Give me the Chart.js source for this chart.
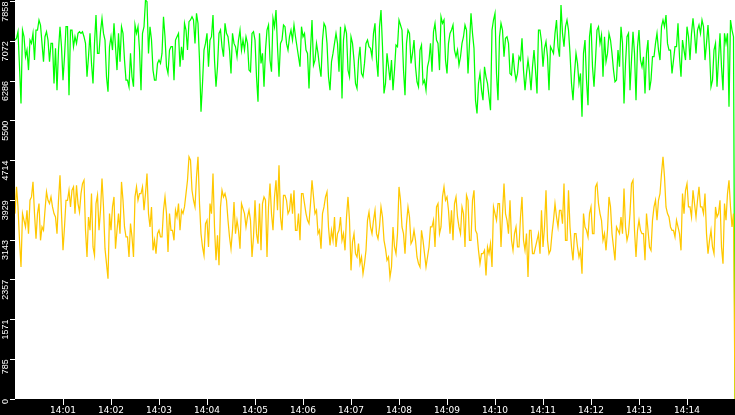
<!DOCTYPE html>
<html>
<head>
<meta charset="utf-8">
<script src="https://cdn.jsdelivr.net/npm/chart.js@4.4.1/dist/chart.umd.min.js"></script>
<style>
    html, body { margin: 0; padding: 0; background: #000; }
    #wrap { width: 735px; height: 415px; }
</style>
</head>
<body>
<div id="wrap"><canvas id="chart" width="735" height="415"></canvas></div>
<script>
// one sample every 1.875 s, 14:00:00 - 14:15:00
// each quarter is kept as two arrays (on-beat / half-beat samples) that get interleaved
const SAMPLE_SECONDS = 1.875;

const xTickLabels = ['14:01', '14:02', '14:03', '14:04', '14:05', '14:06', '14:07',
    '14:08', '14:09', '14:10', '14:11', '14:12', '14:13', '14:14'];
const yTickLabels = ['0', '785', '1571', '2357', '3143', '3929', '4714', '5500', '6286', '7072', '7858'];

// green series (upper)
const greenPart1 = [7098, 7263, 5844, 7164, 6900, 7098, 7230, 7296, 7494, 7032, 7164, 7098, 7032, 6240, 6108,
    7362, 6306, 7362, 6009, 7296, 7164, 7230, 7230, 7164, 6372, 7230, 6240, 7593, 6834, 7527, 7098, 6075, 7164,
    7428, 6504, 6669, 7230, 6306, 6174, 6372, 7395, 7362, 6108, 7362, 7857, 7362, 6504, 6306, 6702, 6834, 7164,
    6438, 6966, 6306, 7164, 6570, 6702, 7296, 7461, 7560];
const greenPart1Mid = [7131, 6570, 7296, 6768, 6504, 7032, 6702, 7296, 7395, 6669, 7263, 6669, 7032, 6933, 6900,
    6966, 6768, 7362, 7296, 6966, 7032, 7263, 7263, 7032, 6768, 6636, 7032, 6834, 7263, 7230, 6372, 6966, 6900,
    6966, 7230, 7362, 6702, 6306, 6834, 6174, 7230, 6900, 7230, 7890, 6834, 7098, 6306, 6636, 6636, 7560, 6570,
    6900, 6966, 7098, 7230, 6966, 7428, 6900, 7494, 7494];
const greenPart2 = [7032, 7428, 5679, 6900, 7230, 7098, 7593, 6174, 7230, 6966, 7428, 7164, 6438, 7032, 6768,
    7296, 7098, 7164, 6504, 7230, 7098, 5877, 6636, 6174, 7296, 6702, 7527, 7692, 6372, 7098, 7362, 6900, 7296,
    7395, 6966, 6570, 7164, 6900, 6141, 7494, 6702, 6834, 6372, 7428, 7032, 6108, 6834, 7230, 6471, 5943, 7362,
    6504, 7164, 6702, 6141, 6966, 6372, 7032, 6966, 6768];
const greenPart2Mid = [7626, 6702, 6240, 7032, 6570, 7164, 6702, 6570, 7296, 6768, 7230, 6900, 7230, 6966, 7098,
    6900, 6900, 7032, 6471, 7263, 6372, 7230, 6834, 6900, 7395, 6471, 7362, 6966, 7032, 7395, 7032, 7164, 7098,
    7164, 6768, 7362, 7230, 6834, 6900, 6603, 7032, 6570, 7098, 7362, 6372, 6669, 7032, 7032, 7362, 7098, 7230,
    6372, 7032, 6240, 6702, 6438, 6636, 7098, 6933, 7230];
const greenPart3 = [7428, 6372, 7692, 6042, 6834, 6306, 6108, 7000, 7494, 7296, 6009, 7296, 6636, 7098, 6273,
    6900, 6240, 6108, 6702, 6471, 7428, 7032, 7560, 7494, 6438, 7230, 7395, 6768, 6603, 7032, 7395, 6438, 7626,
    6933, 5646, 6438, 5910, 6372, 5976, 7296, 7626, 5910, 7428, 6768, 7164, 6438, 6834, 6306, 6768, 7131, 6108,
    6702, 6108, 6900, 6042, 7296, 6570, 7065, 6108, 6900];
const greenPart3Mid = [6702, 7362, 6966, 6240, 6570, 6702, 6504, 6966, 7395, 6504, 7032, 7230, 6834, 6570, 6174,
    6999, 6306, 6570, 7032, 7263, 7098, 6504, 7428, 6702, 7032, 7296, 6900, 6900, 6768, 7164, 7296, 7032, 7230,
    5910, 6240, 6108, 6570, 6240, 5712, 7494, 6438, 7164, 7296, 7131, 7032, 6405, 6504, 6438, 6702, 6504, 6438,
    6471, 6570, 6504, 7296, 7065, 6933, 6768, 6966, 6834];
const greenPart4 = [7230, 6966, 7791, 6966, 7494, 6834, 5910, 6834, 6240, 5580, 7098, 5811, 7428, 6174, 7296,
    7032, 6372, 6669, 7230, 6834, 6273, 6900, 7362, 5844, 7164, 6108, 7263, 5910, 7296, 6570, 6042, 7098, 6306,
    6768, 7230, 6702, 7494, 7593, 6900, 6438, 6966, 7428, 6372, 6900, 7362, 6702, 7527, 6834, 7395, 7494, 6702,
    7395, 6174, 6900, 6174, 7230, 6108, 7032, 5778, 7296];
const greenPart4Mid = [7494, 6768, 7230, 7362, 7296, 6240, 6438, 6636, 6438, 6834, 6306, 7164, 6570, 6702, 7362,
    7197, 7164, 6834, 7098, 6504, 6306, 6570, 7032, 6636, 7230, 6702, 6834, 6966, 6702, 6768, 6834, 6108, 6768,
    7032, 6900, 7362, 7362, 7032, 6900, 6702, 6966, 6768, 7098, 6702, 7164, 7230, 7230, 7296, 7230, 7362, 7032,
    6900, 6306, 7032, 6702, 6570, 7230, 7230, 7494, 7164];

// yellow series (lower)
const yellowPart1 = [3666, 3798, 2610, 3534, 3732, 3930, 4293, 3171, 3864, 3402, 3732, 3930, 3996, 3666, 3270,
    4425, 2940, 3930, 4128, 4128, 3666, 3864, 4062, 4326, 2808, 3336, 3006, 3864, 3336, 4359, 2973, 2379, 3336,
    3996, 3336, 3270, 3930, 3204, 2808, 3204, 3996, 3930, 4062, 3732, 4458, 3402, 2940, 2874, 3336, 3204, 3996,
    2907, 3336, 3138, 3600, 3336, 3666, 4062, 4788, 4128];
const yellowPart1Mid = [4194, 3138, 3666, 3402, 3270, 3996, 3666, 3666, 3138, 3336, 4095, 3864, 3798, 3600, 3930,
    3666, 3402, 3930, 3798, 4194, 4227, 3699, 4260, 3336, 3600, 4062, 2841, 4029, 3732, 3798, 2676, 3666, 3798,
    2973, 3666, 4293, 3402, 3204, 3468, 2808, 4194, 4062, 4194, 4062, 3666, 3798, 3138, 3270, 3204, 3732, 3666,
    3666, 3336, 3732, 3864, 3732, 3798, 4326, 4722, 3930];
const yellowPart2 = [3798, 4788, 3270, 2841, 3534, 3864, 4458, 2742, 2643, 4128, 4062, 3534, 2973, 3897, 3534,
    2973, 3765, 3402, 3732, 2808, 3930, 3072, 2940, 3996, 2808, 4260, 3336, 4326, 4623, 3336, 4029, 3666, 4062,
    4128, 3336, 3138, 4062, 3666, 3468, 4326, 3666, 3270, 2973, 3798, 4095, 3039, 3138, 3006, 3336, 3138, 2940,
    3996, 2544, 3270, 2808, 2676, 2478, 2940, 3699, 3270];
const yellowPart2Mid = [4392, 3864, 3006, 3468, 3006, 3666, 3402, 3237, 3798, 3996, 3930, 3204, 3336, 3270, 3336,
    3864, 3666, 3600, 3534, 3204, 3270, 3864, 3864, 3930, 3798, 3666, 3996, 3732, 3600, 4029, 3930, 3732, 3666,
    3336, 3666, 4062, 3864, 3534, 3864, 3996, 3732, 3336, 3666, 3996, 3402, 3336, 3600, 3270, 3600, 3270, 3600,
    3534, 3105, 2874, 3072, 2808, 2676, 3534, 3402, 3534];
const yellowPart3 = [3732, 3171, 3798, 3138, 2742, 2412, 3402, 2874, 4194, 3402, 2874, 3798, 3072, 3336, 2808,
    2610, 3138, 2610, 3006, 3402, 3006, 3864, 3402, 4194, 3996, 3270, 3138, 3996, 3402, 3798, 3006, 3930, 3138,
    4128, 3270, 2676, 2874, 2445, 2874, 2610, 3666, 3864, 3006, 4260, 3534, 3930, 2940, 3402, 3006, 3996, 2940,
    2412, 3336, 2874, 3138, 2874, 3006, 4128, 2874, 3270];
const yellowPart3Mid = [3270, 3402, 3600, 2973, 2808, 2610, 3006, 3270, 3930, 3270, 3468, 3600, 3138, 3138, 2676,
    3336, 2874, 2808, 3402, 3534, 3798, 3270, 3996, 3930, 3732, 3732, 3864, 3600, 3270, 3666, 4029, 3138, 3930,
    3336, 2940, 2874, 2940, 3006, 3072, 3798, 3534, 3864, 3666, 3666, 3270, 3138, 3270, 3006, 3600, 3138, 3270,
    3336, 2874, 3006, 3270, 3732, 3402, 3138, 2940, 3534];
const yellowPart4 = [3864, 3402, 3732, 4260, 3138, 3402, 2742, 3270, 2808, 2478, 3402, 3204, 3798, 3270, 4260,
    3666, 3138, 2940, 3996, 3270, 2742, 3336, 3600, 4161, 3138, 3666, 4326, 2808, 3534, 3270, 2742, 3336, 2940,
    3798, 3534, 4062, 4788, 3798, 3600, 3336, 3204, 3402, 2940, 3666, 4260, 3798, 4128, 3600, 4194, 3798, 4062,
    2874, 3336, 2874, 3600, 3930, 2676, 3534, 4326, 3402];
const yellowPart4Mid = [3600, 3732, 3468, 3138, 4128, 3006, 3270, 3006, 2940, 3666, 3336, 3666, 3270, 4194, 3864,
    3534, 3270, 3336, 3798, 3006, 3402, 3270, 3270, 3402, 3270, 4260, 3336, 3336, 3336, 3270, 3666, 3006, 3534,
    3930, 3930, 4458, 4392, 3666, 3402, 3336, 3534, 3270, 4062, 4128, 3798, 3600, 3864, 3930, 3798, 3666, 3270,
    3138, 3006, 3798, 3666, 3006, 3864, 4062, 3798, 3666];

function interleave(onBeat, halfBeat) {
    const out = [];
    onBeat.forEach(function (v, i) {
        out.push(v, halfBeat[i]);
    });
    return out;
}

// both series drop to zero at the last sample
const greenValues = [].concat(
    interleave(greenPart1, greenPart1Mid), interleave(greenPart2, greenPart2Mid),
    interleave(greenPart3, greenPart3Mid), interleave(greenPart4, greenPart4Mid), [0]);
const yellowValues = [].concat(
    interleave(yellowPart1, yellowPart1Mid), interleave(yellowPart2, yellowPart2Mid),
    interleave(yellowPart3, yellowPart3Mid), interleave(yellowPart4, yellowPart4Mid), [0]);

function toPoints(values) {
    return values.map(function (v, i) {
        return { x: i * SAMPLE_SECONDS, y: v };
    });
}

// black frame around a white plot area
const framePlugin = {
    id: 'frame',
    beforeDraw: function (chart) {
        const ctx = chart.ctx;
        const area = chart.chartArea;
        ctx.save();
        ctx.fillStyle = '#000';
        ctx.fillRect(0, 0, chart.width, chart.height);
        ctx.fillStyle = '#fff';
        ctx.fillRect(area.left, area.top, area.right - area.left, area.bottom - area.top);
        ctx.restore();
    }
};

const ctx = document.getElementById('chart').getContext('2d');
const chart = new Chart(ctx, {
    type: 'line',
    data: {
        datasets: [{
            label: 'yellow',
            data: toPoints(yellowValues),
            borderColor: '#ffc800',
            borderWidth: 1.25,
            pointRadius: 0,
            tension: 0,
            fill: false
        }, {
            label: 'green',
            data: toPoints(greenValues),
            borderColor: '#00ff00',
            borderWidth: 1.25,
            pointRadius: 0,
            tension: 0,
            fill: false
        }]
    },
    options: {
        responsive: false,
        devicePixelRatio: 1,
        animation: false,
        layout: { padding: 0 },
        scales: {
            x: {
                type: 'linear',
                min: 0,
                max: 900,
                afterBuildTicks: function (scale) {
                    scale.ticks = xTickLabels.map(function (l, i) {
                        return { value: (i + 1) * 60 };
                    });
                },
                afterFit: function (scale) {
                    scale.height = 16;
                    scale.paddingLeft = 0;
                    scale.paddingRight = 0;
                },
                ticks: {
                    color: '#fff',
                    font: { family: 'DejaVu Sans', size: 9 },
                    padding: 0,
                    autoSkip: false,
                    maxRotation: 0,
                    callback: function (value, index) {
                        return xTickLabels[index];
                    }
                },
                grid: {
                    drawOnChartArea: false,
                    color: '#fff',
                    tickLength: 6
                },
                border: { display: false }
            },
            y: {
                min: 0,
                max: 7890,
                afterBuildTicks: function (scale) {
                    scale.ticks = yTickLabels.map(function (l, i) {
                        return { value: i * 785.8 };
                    });
                },
                afterFit: function (scale) {
                    scale.width = 15;
                    scale.paddingTop = 0;
                    scale.paddingBottom = 0;
                },
                ticks: {
                    color: '#fff',
                    font: { family: 'Liberation Sans', size: 9 },
                    padding: 4,
                    autoSkip: false,
                    minRotation: 90,
                    maxRotation: 90,
                    callback: function (value, index) {
                        return yTickLabels[index];
                    }
                },
                grid: {
                    drawOnChartArea: false,
                    color: '#fff',
                    tickLength: 5
                },
                border: { display: false }
            }
        },
        plugins: {
            legend: { display: false },
            tooltip: { enabled: false }
        }
    },
    plugins: [framePlugin]
});
</script>
</body>
</html>
